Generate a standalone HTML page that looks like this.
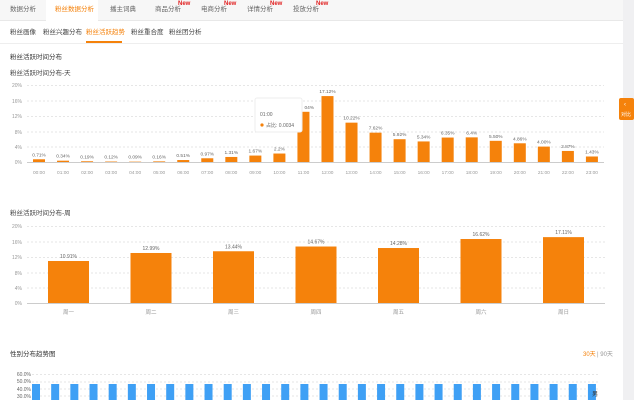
<!DOCTYPE html>
<html><head><meta charset="utf-8"><style>
html,body{margin:0;padding:0;width:634px;height:400px;overflow:hidden;background:#fff;}
svg{display:block;font-family:"Liberation Sans","Noto Sans CJK SC",sans-serif;}
</style></head><body>
<svg width="634" height="400" viewBox="0 0 634 400" xmlns="http://www.w3.org/2000/svg">
<rect x="0" y="0" width="634" height="400" fill="#fff"/>
<rect x="623" y="0" width="11" height="400" fill="#f0f0f2"/>
<rect x="0" y="0" width="623" height="20" fill="#f7f7f7"/>
<rect x="46" y="0" width="52" height="21" fill="#fff"/>
<line x1="0" y1="20.5" x2="46" y2="20.5" stroke="#e8e8e8"/>
<line x1="98" y1="20.5" x2="623" y2="20.5" stroke="#e8e8e8"/>
<g font-size="6.5" fill="#666">
<text x="10" y="11">数据分析</text>
<text x="55" y="11" fill="#f5820b">粉丝数据分析</text>
<text x="110" y="11">播主词典</text>
<text x="155" y="11">商品分析</text>
<text x="201" y="11">电商分析</text>
<text x="247" y="11">详情分析</text>
<text x="293" y="11">投放分析</text>
</g>
<g font-size="6" fill="#e02020" font-weight="bold">
<text x="178" y="5">New</text><text x="224" y="5">New</text><text x="270" y="5">New</text><text x="316" y="5">New</text>
</g>
<g font-size="6.5" fill="#444">
<text x="10" y="34">粉丝画像</text>
<text x="43" y="34">粉丝兴趣分布</text>
<text x="86" y="34" fill="#f5820b">粉丝活跃趋势</text>
<text x="131" y="34">粉丝重合度</text>
<text x="169" y="34">粉丝团分析</text>
</g>
<rect x="86" y="41" width="36" height="2" fill="#f5820b"/>
<line x1="0" y1="43.5" x2="623" y2="43.5" stroke="#eee"/>
<text x="10" y="59" font-size="6.5" fill="#333">粉丝活跃时间分布</text>
<text x="10" y="75" font-size="6.5" fill="#444">粉丝活跃时间分布-天</text>
<!-- day chart -->
<g stroke="#e6e6e6" stroke-dasharray="2,2">
<line x1="27" y1="85.5" x2="604" y2="85.5"/><line x1="27" y1="101" x2="604" y2="101"/><line x1="27" y1="116.5" x2="604" y2="116.5"/><line x1="27" y1="132" x2="604" y2="132"/><line x1="27" y1="147" x2="604" y2="147"/>
</g>
<line x1="27" y1="162.5" x2="604" y2="162.5" stroke="#ccc"/>
<g font-size="5" fill="#999" text-anchor="end">
<text x="22" y="87">20%</text><text x="22" y="103">16%</text><text x="22" y="118">12%</text><text x="22" y="134">8%</text><text x="22" y="149">4%</text><text x="22" y="164">0%</text>
</g>
<g id="dbars"></g>
<!-- tooltip -->
<rect x="255" y="98" width="47" height="34" fill="#fff" stroke="#eee" rx="2"/>
<text x="260" y="116" font-size="5" fill="#666">01:00</text>
<circle cx="262" cy="125" r="1.6" fill="#f5820b"/>
<text x="266" y="127" font-size="5" fill="#666">占比: 0.0034</text>
<!-- week chart -->
<text x="10" y="215" font-size="6.5" fill="#444">粉丝活跃时间分布-周</text>
<g stroke="#e6e6e6" stroke-dasharray="2,2">
<line x1="27" y1="226.5" x2="605" y2="226.5"/><line x1="27" y1="242" x2="605" y2="242"/><line x1="27" y1="257.5" x2="605" y2="257.5"/><line x1="27" y1="273" x2="605" y2="273"/><line x1="27" y1="288" x2="605" y2="288"/>
</g>
<line x1="27" y1="303.5" x2="605" y2="303.5" stroke="#ccc"/>
<g font-size="5" fill="#999" text-anchor="end">
<text x="22" y="228">20%</text><text x="22" y="244">16%</text><text x="22" y="259">12%</text><text x="22" y="275">8%</text><text x="22" y="290">4%</text><text x="22" y="305">0%</text>
</g>
<g id="wbars"></g>
<!-- gender -->
<text x="10" y="356" font-size="6.5" fill="#333">性别分布趋势图</text>
<text x="583" y="356" font-size="6" fill="#f5820b">30天</text>
<text x="597" y="356" font-size="6" fill="#999">| 90天</text>
<g stroke="#e6e6e6" stroke-dasharray="2,2">
<line x1="32" y1="374.5" x2="600" y2="374.5"/><line x1="32" y1="382" x2="600" y2="382"/><line x1="32" y1="389" x2="600" y2="389"/><line x1="32" y1="396" x2="600" y2="396"/>
</g>
<g font-size="5" fill="#666" text-anchor="end">
<text x="31" y="376">60.0%</text><text x="31" y="383">50.0%</text><text x="31" y="391">40.0%</text><text x="31" y="398">30.0%</text>
</g>
<g id="gbars"></g>
<text x="592" y="396" font-size="6" fill="#333">男</text>
<rect x="619" y="98" width="15" height="22" fill="#f5820b" rx="2"/>
<text x="624" y="106" font-size="6" fill="#fff">‹</text>
<text x="621" y="116" font-size="5" fill="#fff">对比</text>
</svg>
<script>
var ns="http://www.w3.org/2000/svg";
function el(p,t,a,txt){var e=document.createElementNS(ns,t);for(var k in a)e.setAttribute(k,a[k]);if(txt)e.textContent=txt;p.appendChild(e);return e;}
var d=[0.71,0.34,0.19,0.12,0.09,0.16,0.51,0.97,1.31,1.67,2.2,13.04,17.12,10.22,7.62,5.92,5.34,6.35,6.4,5.50,4.86,4.00,2.87,1.43];
var lb=["0.71%","0.34%","0.19%","0.12%","0.09%","0.16%","0.51%","0.97%","1.31%","1.67%","2.2%","13.04%","17.12%","10.22%","7.62%","5.92%","5.34%","6.35%","6.4%","5.50%","4.86%","4.00%","2.87%","1.43%"];
var g=document.getElementById("dbars");
for(var i=0;i<24;i++){var cx=39+i*24.04,h=d[i]/20*77;
el(g,"rect",{x:cx-6,y:162-h,width:12,height:h,fill:"#f5820b"});
if(i!=11)el(g,"text",{x:cx,y:162-h-3,"font-size":"4.8",fill:"#666","text-anchor":"middle"},lb[i]);
else el(g,"text",{x:cx+1,y:162-h-3,"font-size":"4.8",fill:"#666","text-anchor":"start"},"04%");
el(g,"text",{x:cx,y:174,"font-size":"4.8",fill:"#999","text-anchor":"middle"},(i<10?"0":"")+i+":00");}
var w=[10.91,12.99,13.44,14.67,14.28,16.62,17.11],wl=["10.91%","12.99%","13.44%","14.67%","14.28%","16.62%","17.11%"],wn=["周一","周二","周三","周四","周五","周六","周日"];
g=document.getElementById("wbars");
for(i=0;i<7;i++){var cx=68.5+i*82.5,h=w[i]/20*77;
el(g,"rect",{x:cx-20.5,y:303-h,width:41,height:h,fill:"#f5820b"});
el(g,"text",{x:cx,y:303-h-3,"font-size":"5","fill":"#666","text-anchor":"middle"},wl[i]);
el(g,"text",{x:cx,y:314,"font-size":"5.5","fill":"#999","text-anchor":"middle"},wn[i]);}
g=document.getElementById("gbars");
for(i=0;i<30;i++){var cx=36+i*19.17;el(g,"rect",{x:cx-4,y:384,width:8,height:16,fill:"#3fa0f5"});}
</script>
</body></html>
